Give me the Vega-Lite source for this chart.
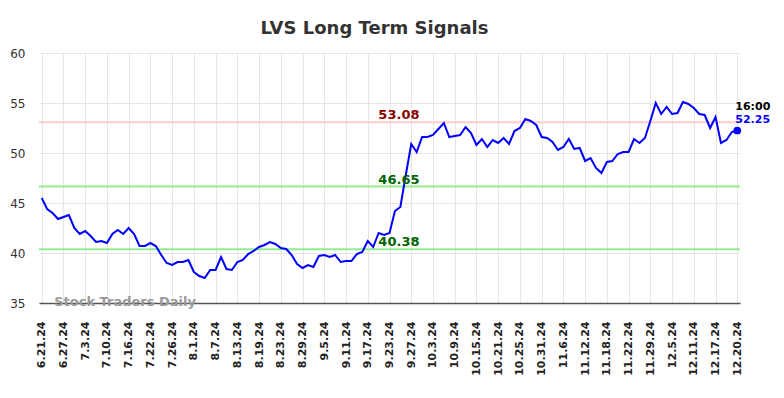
{
  "$schema": "https://vega.github.io/schema/vega-lite/v6.json",
  "autosize": {"type": "none"},
  "width": 701,
  "height": 250,
  "padding": {"left": 39, "top": 53, "right": 44, "bottom": 95},
  "background": "#ffffff",
  "title": {"text": "LVS Long Term Signals", "fontSize": 18, "font": "DejaVu Sans", "fontWeight": "bold", "color": "#333333", "anchor": "middle", "dx": -15, "dy": 24, "baseline": "alphabetic", "offset": 19},
  "config": {
    "view": {"stroke": null},
    "font": "DejaVu Sans",
    "axis": {"gridColor": "#e6e6e6", "gridWidth": 1, "ticks": false, "labelFont": "DejaVu Sans", "title": null},
    "axisX": {"labelOverlap": false, "labelBound": false, "labelAngle": -90, "labelFontSize": 11, "labelFontWeight": "bold", "labelColor": "#222222", "labelPadding": 18, "domainColor": "#555555", "domainWidth": 1.5}
  },
  "datasets": {
    "prices": [
      {"i":0,"date":"6.21.24","close":45.5},{"i":1,"date":"6.24.24","close":44.4},{"i":2,"date":"6.25.24","close":44.0},{"i":3,"date":"6.26.24","close":43.4},{"i":4,"date":"6.27.24","close":43.6},{"i":5,"date":"6.28.24","close":43.8},{"i":6,"date":"7.1.24","close":42.5},{"i":7,"date":"7.2.24","close":41.9},{"i":8,"date":"7.3.24","close":42.2},{"i":9,"date":"7.5.24","close":41.7},{"i":10,"date":"7.8.24","close":41.1},{"i":11,"date":"7.9.24","close":41.2},{"i":12,"date":"7.10.24","close":41.0},{"i":13,"date":"7.11.24","close":41.9},{"i":14,"date":"7.12.24","close":42.3},{"i":15,"date":"7.15.24","close":41.9},{"i":16,"date":"7.16.24","close":42.5},{"i":17,"date":"7.17.24","close":41.9},{"i":18,"date":"7.18.24","close":40.7},{"i":19,"date":"7.19.24","close":40.7},{"i":20,"date":"7.22.24","close":41.0},{"i":21,"date":"7.23.24","close":40.7},{"i":22,"date":"7.24.24","close":39.8},{"i":23,"date":"7.25.24","close":39.0},{"i":24,"date":"7.26.24","close":38.8},{"i":25,"date":"7.29.24","close":39.1},{"i":26,"date":"7.30.24","close":39.1},{"i":27,"date":"7.31.24","close":39.3},{"i":28,"date":"8.1.24","close":38.1},{"i":29,"date":"8.2.24","close":37.7},{"i":30,"date":"8.5.24","close":37.5},{"i":31,"date":"8.6.24","close":38.3},{"i":32,"date":"8.7.24","close":38.3},{"i":33,"date":"8.8.24","close":39.6},{"i":34,"date":"8.9.24","close":38.4},{"i":35,"date":"8.12.24","close":38.3},{"i":36,"date":"8.13.24","close":39.1},{"i":37,"date":"8.14.24","close":39.3},{"i":38,"date":"8.15.24","close":39.9},{"i":39,"date":"8.16.24","close":40.2},{"i":40,"date":"8.19.24","close":40.6},{"i":41,"date":"8.20.24","close":40.8},{"i":42,"date":"8.21.24","close":41.1},{"i":43,"date":"8.22.24","close":40.9},{"i":44,"date":"8.23.24","close":40.5},{"i":45,"date":"8.26.24","close":40.4},{"i":46,"date":"8.27.24","close":39.8},{"i":47,"date":"8.28.24","close":38.9},{"i":48,"date":"8.29.24","close":38.5},{"i":49,"date":"8.30.24","close":38.8},{"i":50,"date":"9.3.24","close":38.6},{"i":51,"date":"9.4.24","close":39.7},{"i":52,"date":"9.5.24","close":39.8},{"i":53,"date":"9.6.24","close":39.6},{"i":54,"date":"9.9.24","close":39.8},{"i":55,"date":"9.10.24","close":39.1},{"i":56,"date":"9.11.24","close":39.2},{"i":57,"date":"9.12.24","close":39.2},{"i":58,"date":"9.13.24","close":39.9},{"i":59,"date":"9.16.24","close":40.1},{"i":60,"date":"9.17.24","close":41.2},{"i":61,"date":"9.18.24","close":40.6},{"i":62,"date":"9.19.24","close":42.0},{"i":63,"date":"9.20.24","close":41.8},{"i":64,"date":"9.23.24","close":42.0},{"i":65,"date":"9.24.24","close":44.2},{"i":66,"date":"9.25.24","close":44.6},{"i":67,"date":"9.26.24","close":47.8},{"i":68,"date":"9.27.24","close":50.9},{"i":69,"date":"9.30.24","close":50.1},{"i":70,"date":"10.1.24","close":51.6},{"i":71,"date":"10.2.24","close":51.6},{"i":72,"date":"10.3.24","close":51.8},{"i":73,"date":"10.4.24","close":52.4},{"i":74,"date":"10.7.24","close":53.0},{"i":75,"date":"10.8.24","close":51.6},{"i":76,"date":"10.9.24","close":51.7},{"i":77,"date":"10.10.24","close":51.8},{"i":78,"date":"10.11.24","close":52.6},{"i":79,"date":"10.14.24","close":52.0},{"i":80,"date":"10.15.24","close":50.8},{"i":81,"date":"10.16.24","close":51.4},{"i":82,"date":"10.17.24","close":50.6},{"i":83,"date":"10.18.24","close":51.3},{"i":84,"date":"10.21.24","close":51.0},{"i":85,"date":"10.22.24","close":51.5},{"i":86,"date":"10.23.24","close":50.9},{"i":87,"date":"10.24.24","close":52.2},{"i":88,"date":"10.25.24","close":52.5},{"i":89,"date":"10.28.24","close":53.4},{"i":90,"date":"10.29.24","close":53.2},{"i":91,"date":"10.30.24","close":52.8},{"i":92,"date":"10.31.24","close":51.6},{"i":93,"date":"11.1.24","close":51.5},{"i":94,"date":"11.4.24","close":51.1},{"i":95,"date":"11.5.24","close":50.3},{"i":96,"date":"11.6.24","close":50.6},{"i":97,"date":"11.7.24","close":51.4},{"i":98,"date":"11.8.24","close":50.4},{"i":99,"date":"11.11.24","close":50.5},{"i":100,"date":"11.12.24","close":49.2},{"i":101,"date":"11.13.24","close":49.5},{"i":102,"date":"11.14.24","close":48.5},{"i":103,"date":"11.15.24","close":48.0},{"i":104,"date":"11.18.24","close":49.1},{"i":105,"date":"11.19.24","close":49.2},{"i":106,"date":"11.20.24","close":49.9},{"i":107,"date":"11.21.24","close":50.1},{"i":108,"date":"11.22.24","close":50.1},{"i":109,"date":"11.25.24","close":51.4},{"i":110,"date":"11.26.24","close":51.0},{"i":111,"date":"11.27.24","close":51.5},{"i":112,"date":"11.29.24","close":53.2},{"i":113,"date":"12.2.24","close":55.0},{"i":114,"date":"12.3.24","close":53.9},{"i":115,"date":"12.4.24","close":54.6},{"i":116,"date":"12.5.24","close":53.9},{"i":117,"date":"12.6.24","close":54.0},{"i":118,"date":"12.9.24","close":55.1},{"i":119,"date":"12.10.24","close":54.9},{"i":120,"date":"12.11.24","close":54.5},{"i":121,"date":"12.12.24","close":53.9},{"i":122,"date":"12.13.24","close":53.8},{"i":123,"date":"12.16.24","close":52.5},{"i":124,"date":"12.17.24","close":53.6},{"i":125,"date":"12.18.24","close":51.0},{"i":126,"date":"12.19.24","close":51.3},{"i":127,"date":"12.20.24","close":52.1},{"i":128,"date":"12.20.24 16:00","close":52.25}
    ],
    "levels": [
      {"level": 53.08, "kind": "resistance", "label": "53.08"},
      {"level": 46.65, "kind": "support", "label": "46.65"},
      {"level": 40.38, "kind": "support", "label": "40.38"}
    ]
  },
  "layer": [
    {
      "data": {"name": "levels"},
      "mark": {"type": "rule", "strokeWidth": 2},
      "encoding": {
        "y": {"field": "level", "type": "quantitative", "scale": {"domain": [35, 60], "nice": false, "zero": false},
          "axis": {"values": [35, 40, 45, 50, 55, 60], "domain": false, "labelPadding": 14, "labelFontSize": 12, "labelColor": "#333333", "grid": true}},
        "color": {"field": "kind", "type": "nominal", "scale": {"domain": ["resistance", "support"], "range": ["#ffcccc", "#90ee90"]}, "legend": null}
      }
    },
    {
      "data": {"name": "prices"},
      "mark": {"type": "line", "color": "#0000ff", "strokeWidth": 2},
      "encoding": {
        "x": {"field": "date", "type": "ordinal",
          "scale": {"type": "point", "padding": 0.5, "domain": ["6.21.24","6.24.24","6.25.24","6.26.24","6.27.24","6.28.24","7.1.24","7.2.24","7.3.24","7.5.24","7.8.24","7.9.24","7.10.24","7.11.24","7.12.24","7.15.24","7.16.24","7.17.24","7.18.24","7.19.24","7.22.24","7.23.24","7.24.24","7.25.24","7.26.24","7.29.24","7.30.24","7.31.24","8.1.24","8.2.24","8.5.24","8.6.24","8.7.24","8.8.24","8.9.24","8.12.24","8.13.24","8.14.24","8.15.24","8.16.24","8.19.24","8.20.24","8.21.24","8.22.24","8.23.24","8.26.24","8.27.24","8.28.24","8.29.24","8.30.24","9.3.24","9.4.24","9.5.24","9.6.24","9.9.24","9.10.24","9.11.24","9.12.24","9.13.24","9.16.24","9.17.24","9.18.24","9.19.24","9.20.24","9.23.24","9.24.24","9.25.24","9.26.24","9.27.24","9.30.24","10.1.24","10.2.24","10.3.24","10.4.24","10.7.24","10.8.24","10.9.24","10.10.24","10.11.24","10.14.24","10.15.24","10.16.24","10.17.24","10.18.24","10.21.24","10.22.24","10.23.24","10.24.24","10.25.24","10.28.24","10.29.24","10.30.24","10.31.24","11.1.24","11.4.24","11.5.24","11.6.24","11.7.24","11.8.24","11.11.24","11.12.24","11.13.24","11.14.24","11.15.24","11.18.24","11.19.24","11.20.24","11.21.24","11.22.24","11.25.24","11.26.24","11.27.24","11.29.24","12.2.24","12.3.24","12.4.24","12.5.24","12.6.24","12.9.24","12.10.24","12.11.24","12.12.24","12.13.24","12.16.24","12.17.24","12.18.24","12.19.24","12.20.24","12.20.24 16:00"]},
          "axis": {"values": ["6.21.24","6.27.24","7.3.24","7.10.24","7.16.24","7.22.24","7.26.24","8.1.24","8.7.24","8.13.24","8.19.24","8.23.24","8.29.24","9.5.24","9.11.24","9.17.24","9.23.24","9.27.24","10.3.24","10.9.24","10.15.24","10.21.24","10.25.24","10.31.24","11.6.24","11.12.24","11.18.24","11.22.24","11.29.24","12.5.24","12.11.24","12.17.24","12.20.24 16:00"],
            "labelExpr": "replace(datum.label, ' 16:00', '')",
            "labelOverlap": false, "grid": true}},
        "y": {"field": "close", "type": "quantitative"}
      }
    },
    {
      "data": {"name": "prices"},
      "transform": [{"filter": "datum.i == 128"}],
      "mark": {"type": "point", "filled": true, "color": "#0000ff", "size": 60, "opacity": 1},
      "encoding": {"x": {"field": "date", "type": "ordinal"}, "y": {"field": "close", "type": "quantitative"}}
    },
    {
      "data": {"name": "prices"},
      "transform": [{"filter": "datum.i == 128"}],
      "mark": {"type": "text", "align": "left", "baseline": "middle", "dx": -2, "dy": -11, "fontSize": 11, "fontWeight": "bold", "color": "#0000ff"},
      "encoding": {"x": {"field": "date", "type": "ordinal"}, "y": {"field": "close", "type": "quantitative"}, "text": {"field": "close", "type": "quantitative", "format": ".2f"}}
    },
    {
      "data": {"values": [{"time": "16:00", "date": "12.20.24 16:00", "close": 52.25}]},
      "mark": {"type": "text", "align": "left", "baseline": "middle", "dx": -2, "dy": -24, "fontSize": 11, "fontWeight": "bold", "color": "#000000"},
      "encoding": {"x": {"field": "date", "type": "ordinal"}, "y": {"field": "close", "type": "quantitative"}, "text": {"field": "time"}}
    },
    {
      "data": {"name": "levels"},
      "mark": {"type": "text", "align": "center", "baseline": "alphabetic", "dx": 4, "dy": -3, "fontSize": 13, "fontWeight": "bold"},
      "encoding": {
        "x": {"datum": "9.24.24", "type": "ordinal"},
        "y": {"field": "level", "type": "quantitative"},
        "text": {"field": "label"},
        "color": {"field": "kind", "type": "nominal", "scale": {"domain": ["resistance", "support"], "range": ["#8b0000", "#006400"]}, "legend": null}
      }
    },
    {
      "data": {"values": [{"text": "Stock Traders Daily"}]},
      "mark": {"type": "text", "align": "left", "baseline": "middle", "dx": 1.6, "dy": -1, "fontSize": 13, "fontWeight": "bold", "color": "#999999"},
      "encoding": {"x": {"datum": "6.25.24", "type": "ordinal"}, "y": {"datum": 35, "type": "quantitative"}, "text": {"field": "text"}}
    }
  ],
  "resolve": {"scale": {"color": "independent"}}
}
